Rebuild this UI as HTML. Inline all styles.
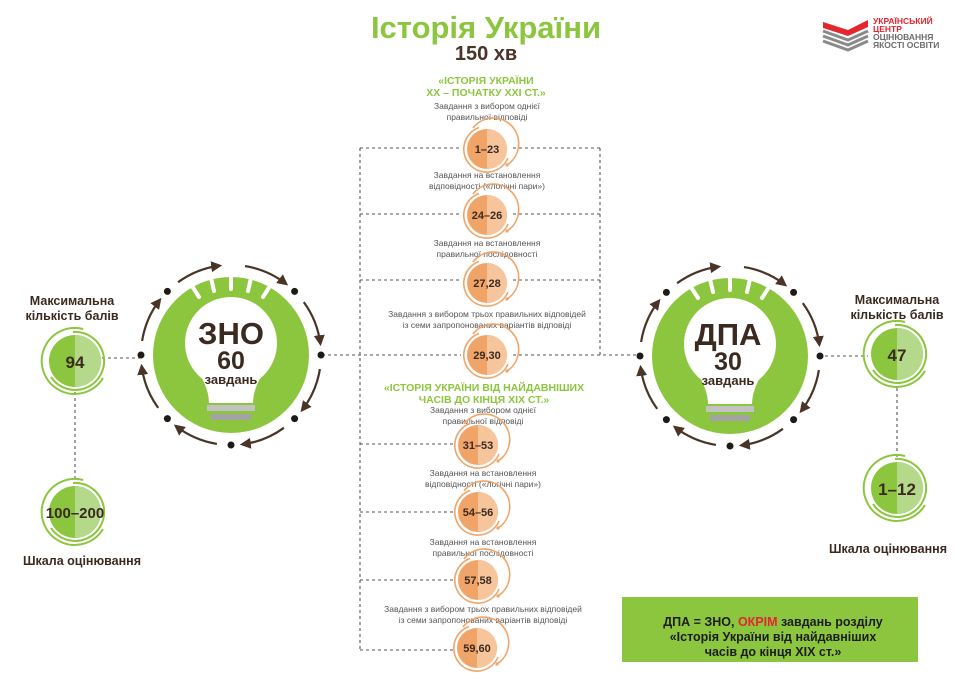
<!DOCTYPE html>
<html><head><meta charset="utf-8"><style>
html,body{margin:0;padding:0;background:#fff;}
svg{display:block;font-family:"Liberation Sans","DejaVu Sans",sans-serif;}
</style></head><body>
<svg width="960" height="684" viewBox="0 0 960 684" xmlns="http://www.w3.org/2000/svg">
<defs>
<marker id="ah" viewBox="0 0 10 10" refX="8" refY="5" markerWidth="5" markerHeight="5" orient="auto-start-reverse"><path d="M0,0 L10,5 L0,10 z" fill="#4a3427"/></marker>
<g id="big">
  <circle r="78" fill="#8cc63f"/>
  <g fill="none" stroke="#4a3427" stroke-width="2.2" marker-end="url(#ah)">
    <path d="M88.9,14.1 A90,90 0 0 1 70.9,55.4"/>
    <path d="M52.9,72.8 A90,90 0 0 1 11,89.4"/>
    <path d="M-14.1,88.9 A90,90 0 0 1 -55.4,70.9"/>
    <path d="M-72.8,52.9 A90,90 0 0 1 -89.4,11"/>
    <path d="M-88.9,-14 A90,90 0 0 1 -70.9,-55.4"/>
    <path d="M-52.9,-72.8 A90,90 0 0 1 -11,-89.4"/>
    <path d="M14,-88.9 A90,90 0 0 1 55.4,-70.9"/>
    <path d="M72.8,-52.9 A90,90 0 0 1 89.4,-11"/>
  </g>
  <g fill="#1e1a18">
    <circle cx="90" cy="0" r="3.5"/><circle cx="63.6" cy="63.6" r="3.5"/><circle cx="0" cy="90" r="3.5"/>
    <circle cx="-63.6" cy="63.6" r="3.5"/><circle cx="-90" cy="0" r="3.5"/><circle cx="-63.6" cy="-63.6" r="3.5"/><circle cx="63.6" cy="-63.6" r="3.5"/>
  </g>
  <circle cx="0" cy="-12" r="46" fill="#fff"/>
  <path d="M-36,12 Q-22,32 -22,48 L22,48 Q22,32 36,12 Z" fill="#fff"/>
  <rect x="-24" y="50" width="48" height="6" fill="#c2c2c2"/>
  <rect x="-20" y="59" width="40" height="6" fill="#a3a3a3"/>
  <g stroke="#fff" stroke-width="4" stroke-linecap="round">
    <line x1="0" y1="-66" x2="0" y2="-80"/>
    <line x1="-17" y1="-64" x2="-20" y2="-77"/>
    <line x1="17" y1="-64" x2="20" y2="-77"/>
    <line x1="-32" y1="-58" x2="-39" y2="-69"/>
    <line x1="32" y1="-58" x2="39" y2="-69"/>
  </g>
</g>
<g id="sg">
  <circle r="26" fill="#8cc63f"/>
  <path d="M0,-26 A26,26 0 0 1 0,26 Z" fill="#b5d98a"/>
  <path d="M-2,-29 A29,29 0 1 1 -24,16" fill="none" stroke="#8cc63f" stroke-width="2"/>
  <path d="M8,-32 A33,33 0 1 0 28,17" fill="none" stroke="#8cc63f" stroke-width="2"/>
</g>
<g id="oc">
  <circle r="20" fill="#f0a468"/>
  <path d="M0,-20 A20,20 0 0 1 0,20 Z" fill="#f7c59c"/>
  <path d="M-8,-21.5 A23,23 0 1 0 21,9" fill="none" stroke="#f0a468" stroke-width="1.6"/>
  <path d="M-14,-21 A25.5,25.5 0 1 1 20,16" fill="none" stroke="#f0a468" stroke-width="1.6"/>
  <circle cx="20" cy="16" r="1.6" fill="#f0a468"/>
</g>
</defs>

<text x="486" y="38" text-anchor="middle" font-size="31" font-weight="bold" fill="#8cc63f">Історія України</text>
<text x="486" y="60" text-anchor="middle" font-size="20" font-weight="bold" fill="#4a3427">150 хв</text>

<path d="M823,22 L848,30 L868,20 L868,27 L848,36 L823,28 Z" fill="#e4262f"/>
<path d="M823,31 L848,40 L868,31 M823,36 L848,45 L868,36 M823,41 L848,50 L868,41" fill="none" stroke="#8a8a8a" stroke-width="3"/>
<g font-size="8.5" font-weight="bold">
<text x="873" y="24" fill="#e4262f">УКРАЇНСЬКИЙ</text>
<text x="873" y="32" fill="#e4262f">ЦЕНТР</text>
<text x="873" y="40" fill="#6d6d6d">ОЦІНЮВАННЯ</text>
<text x="873" y="48" fill="#6d6d6d">ЯКОСТІ ОСВІТИ</text>
</g>

<g stroke="#555" stroke-width="1.1" stroke-dasharray="3,3" fill="none">
  <line x1="360" y1="148" x2="360" y2="652"/>
  <line x1="600" y1="148" x2="600" y2="356"/>
  <line x1="360" y1="148" x2="461" y2="148"/><line x1="513" y1="148" x2="600" y2="148"/>
  <line x1="360" y1="214" x2="461" y2="214"/><line x1="513" y1="214" x2="600" y2="214"/>
  <line x1="360" y1="280" x2="461" y2="280"/><line x1="513" y1="280" x2="600" y2="280"/>
  <line x1="322" y1="355" x2="461" y2="355"/><line x1="513" y1="355" x2="641" y2="355"/>
  <line x1="360" y1="444" x2="455" y2="444"/>
  <line x1="360" y1="512" x2="455" y2="512"/>
  <line x1="360" y1="580" x2="455" y2="580"/>
  <line x1="360" y1="650" x2="455" y2="650"/>
  <line x1="102" y1="358" x2="140" y2="358"/>
  <line x1="75" y1="392" x2="75" y2="480"/>
  <line x1="819" y1="356" x2="868" y2="356"/>
  <line x1="897" y1="388" x2="897" y2="460"/>
</g>

<use href="#big" x="231" y="355"/>
<use href="#big" x="730" y="356"/>
<g fill="#3b2a20" font-weight="bold" text-anchor="middle">
<text x="231" y="344" font-size="31">ЗНО</text>
<text x="231" y="369" font-size="25">60</text>
<text x="231" y="384" font-size="13">завдань</text>
<text x="728" y="345" font-size="31">ДПА</text>
<text x="728" y="370" font-size="25">30</text>
<text x="728" y="385" font-size="13">завдань</text>
</g>

<use href="#sg" x="75" y="361"/>
<use href="#sg" x="75" y="512"/>
<use href="#sg" x="897" y="354"/>
<use href="#sg" x="897" y="488"/>
<g fill="#3b2a20" font-weight="bold" text-anchor="middle">
<text x="75" y="368" font-size="17">94</text>
<text x="75" y="518" font-size="15">100–200</text>
<text x="897" y="361" font-size="17">47</text>
<text x="897" y="495" font-size="17">1–12</text>
<text x="72" y="305" font-size="12.5">Максимальна</text>
<text x="72" y="320" font-size="12.5">кількість балів</text>
<text x="82" y="565" font-size="12.5">Шкала оцінювання</text>
<text x="897" y="304" font-size="12.5">Максимальна</text>
<text x="897" y="319" font-size="12.5">кількість балів</text>
<text x="888" y="553" font-size="12.5">Шкала оцінювання</text>
</g>

<g font-weight="bold" font-size="10.5" fill="#8cc63f" text-anchor="middle">
<text x="486" y="84">«ІСТОРІЯ УКРАЇНИ</text>
<text x="486" y="96">ХХ – ПОЧАТКУ ХХІ СТ.»</text>
<text x="484" y="391">«ІСТОРІЯ УКРАЇНИ ВІД НАЙДАВНІШИХ</text>
<text x="484" y="403">ЧАСІВ ДО КІНЦЯ ХІХ СТ.»</text>
</g>
<g font-size="8.5" fill="#555" text-anchor="middle">
<text x="487" y="109">Завдання з вибором однієї</text>
<text x="487" y="120">правильної відповіді</text>
<text x="487" y="178">Завдання на встановлення</text>
<text x="487" y="189">відповідності («логічні пари»)</text>
<text x="487" y="246">Завдання на встановлення</text>
<text x="487" y="257">правильної послідовності</text>
<text x="487" y="317">Завдання з вибором трьох правильних відповідей</text>
<text x="487" y="328">із семи запропонованих варіантів відповіді</text>
<text x="483" y="413">Завдання з вибором однієї</text>
<text x="483" y="424">правильної відповіді</text>
<text x="483" y="476">Завдання на встановлення</text>
<text x="483" y="487">відповідності («логічні пари»)</text>
<text x="483" y="545">Завдання на встановлення</text>
<text x="483" y="556">правильної послідовності</text>
<text x="483" y="612">Завдання з вибором трьох правильних відповідей</text>
<text x="483" y="623">із семи запропонованих варіантів відповіді</text>
</g>
<use href="#oc" x="487" y="149"/>
<use href="#oc" x="487" y="215"/>
<use href="#oc" x="487" y="283"/>
<use href="#oc" x="487" y="355"/>
<use href="#oc" x="478" y="445"/>
<use href="#oc" x="478" y="512"/>
<use href="#oc" x="478" y="580"/>
<use href="#oc" x="477" y="648"/>
<g font-weight="bold" font-size="11" fill="#3b2a20" text-anchor="middle">
<text x="487" y="153">1–23</text>
<text x="487" y="219">24–26</text>
<text x="487" y="287">27,28</text>
<text x="487" y="359">29,30</text>
<text x="478" y="449">31–53</text>
<text x="478" y="516">54–56</text>
<text x="478" y="584">57,58</text>
<text x="477" y="652">59,60</text>
</g>

<rect x="622" y="597" width="296" height="65" fill="#8cc63f"/>
<g font-weight="bold" font-size="12.5" fill="#1d1d1b" text-anchor="middle">
<text x="773" y="626">ДПА = ЗНО, <tspan fill="#e4262f">ОКРІМ</tspan> завдань розділу</text>
<text x="773" y="641">«Історія України від найдавніших</text>
<text x="773" y="656">часів до кінця ХІХ ст.»</text>
</g>
</svg>
</body></html>
